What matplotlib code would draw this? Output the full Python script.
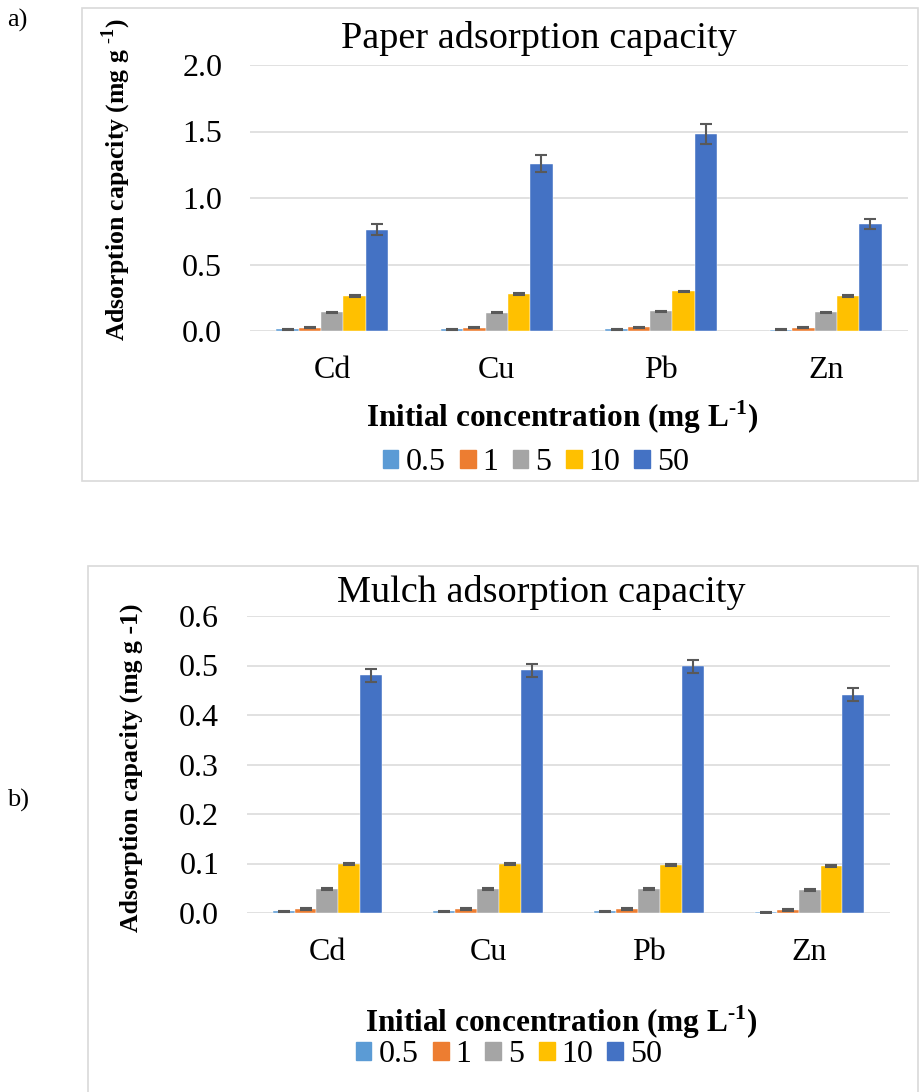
import numpy as np
import matplotlib
matplotlib.use("Agg")
import matplotlib.pyplot as plt
from matplotlib.patches import Patch, Rectangle

plt.rcParams["font.family"] = ["Liberation Serif", "DejaVu Serif"]
plt.rcParams["mathtext.fontset"] = "custom"
plt.rcParams["mathtext.rm"] = "Liberation Serif"
plt.rcParams["mathtext.bf"] = "Liberation Serif:bold"

metals = ["Cd", "Cu", "Pb", "Zn"]
concentrations = ["0.5", "1", "5", "10", "50"]
colors = ["#5B9BD5", "#ED7D31", "#A5A5A5", "#FFC000", "#4472C4"]

# paper, rows = concentration, columns = metal
paper_mean = [
    [0.012, 0.012, 0.012, 0.011],
    [0.026, 0.025, 0.027, 0.026],
    [0.141, 0.137, 0.149, 0.141],
    [0.264, 0.280, 0.297, 0.264],
    [0.762, 1.258, 1.479, 0.805],
]
paper_err = [
    [0.003, 0.003, 0.003, 0.003],
    [0.004, 0.004, 0.004, 0.004],
    [0.005, 0.005, 0.005, 0.005],
    [0.007, 0.007, 0.007, 0.007],
    [0.040, 0.063, 0.075, 0.040],
]

mulch_mean = [
    [0.004, 0.004, 0.004, 0.002],
    [0.009, 0.009, 0.009, 0.007],
    [0.049, 0.049, 0.048, 0.046],
    [0.099, 0.099, 0.097, 0.094],
    [0.480, 0.490, 0.498, 0.441],
]
mulch_err = [
    [0.001, 0.001, 0.001, 0.001],
    [0.002, 0.002, 0.002, 0.002],
    [0.002, 0.002, 0.002, 0.002],
    [0.002, 0.002, 0.002, 0.002],
    [0.013, 0.013, 0.013, 0.013],
]

W, H = 923, 1092
fig = plt.figure(figsize=(W / 100, H / 100), dpi=100)


def fx(px):
    return px / W


def fy(py):
    return 1 - py / H


def panel(box, axrect, means, errs, ymax, ystep, title, title_xy, ylabel, ylabel_xy,
          xlabel_xy, legend_xy):
    fig.patches.append(Rectangle((fx(box[0]), fy(box[3])), fx(box[2] - box[0]),
                                 (box[3] - box[1]) / H, transform=fig.transFigure,
                                 fill=False, edgecolor="#D9D9D9", linewidth=1.2))
    l, t, r, b = axrect
    ax = fig.add_axes([fx(l), fy(b), fx(r - l), (b - t) / H])
    x = np.arange(len(metals))
    bw = 0.136
    for i, (m, e) in enumerate(zip(means, errs)):
        ax.bar(x + (i - 2) * bw, m, bw, color=colors[i], yerr=e, zorder=3,
               edgecolor="white", linewidth=0.3,
               error_kw=dict(ecolor="#595959", elinewidth=1.5, capsize=4.5, capthick=1.5))
    ax.set_xlim(-0.5, len(metals) - 0.5)
    ax.set_ylim(0, ymax)
    ticks = np.arange(0, ymax + ystep / 2, ystep)
    ax.set_yticks(ticks)
    ax.set_yticklabels([f"{v:.1f}" for v in ticks])
    ax.set_xticks(x)
    ax.set_xticklabels(metals)
    ax.yaxis.grid(True, color="#D9D9D9", linewidth=1.1, zorder=0)
    ax.set_axisbelow(True)
    for s in ax.spines.values():
        s.set_visible(False)
    ax.tick_params(axis="y", length=0, pad=20, labelsize=23)
    ax.tick_params(axis="x", length=0, pad=18, labelsize=23)
    fig.text(fx(title_xy[0]), fy(title_xy[1]), title, ha="center", va="center", fontsize=27.5)
    fig.text(fx(ylabel_xy[0]), fy(ylabel_xy[1]), ylabel, ha="center", va="center",
             rotation=90, fontsize=18.5, fontweight="bold")
    fig.text(fx(xlabel_xy[0]), fy(xlabel_xy[1]), r"Initial concentration (mg L$^{\mathbf{\text{-}1}}$)",
             ha="center", va="center", fontsize=22.5, fontweight="bold")
    handles = [Patch(color=c, label=lab) for c, lab in zip(colors, concentrations)]
    fig.legend(handles=handles, loc="center", bbox_to_anchor=(fx(legend_xy[0]), fy(legend_xy[1])),
               ncol=5, frameon=False, fontsize=23, handlelength=0.5, handleheight=0.5,
               handletextpad=0.22, columnspacing=0.44, borderpad=0)
    return ax


panel((82, 8, 918, 481), (250, 65, 908, 331), paper_mean, paper_err, 2.0, 0.5,
      "Paper adsorption capacity", (539, 38),
      r"Adsorption capacity (mg g $^{\mathbf{\text{-}1}}$)", (116, 180),
      (562, 417), (536, 463))

panel((88, 566, 918, 1100), (247, 616, 890, 913), mulch_mean, mulch_err, 0.6, 0.1,
      "Mulch adsorption capacity", (541, 593),
      "Adsorption capacity (mg g -1)", (131, 768),
      (561, 1022), (509, 1055))

fig.text(fx(7), fy(20), "a)", ha="left", va="center", fontsize=19)
fig.text(fx(7), fy(800), "b)", ha="left", va="center", fontsize=19)

fig.savefig("out.png", dpi=100)
